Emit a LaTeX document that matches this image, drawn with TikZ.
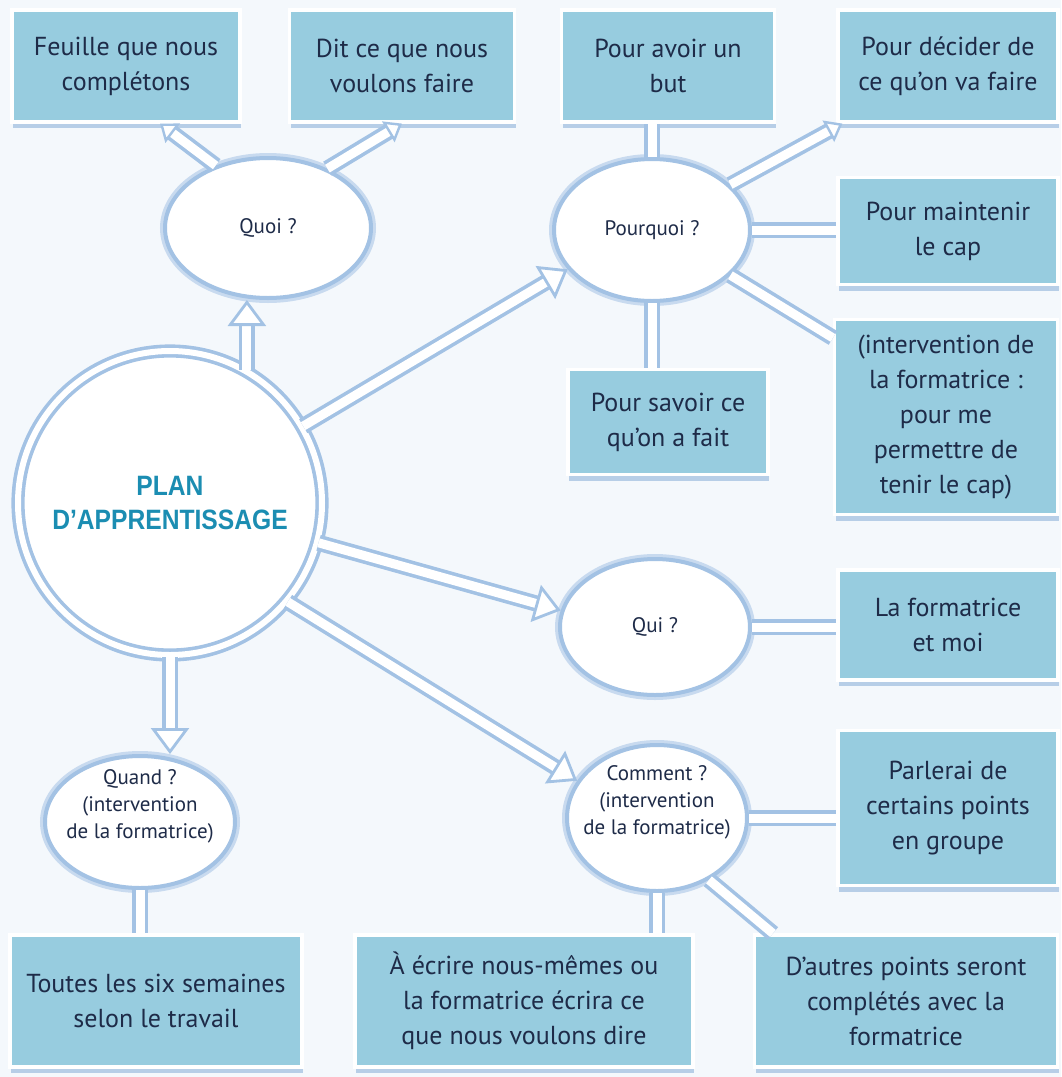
\documentclass[tikz,border=0pt]{standalone}
\usepackage{fontspec}
\setmainfont{PT Sans}
\newfontfamily\titlefont[FakeStretch=0.88]{Liberation Sans}
\usetikzlibrary{arrows.meta,shapes.geometric,shadows}
\definecolor{bgblue}{HTML}{F4F8FC}
\definecolor{boxblue}{HTML}{97CCDF}
\definecolor{inkblue}{HTML}{1E2B48}
\definecolor{titleblue}{HTML}{1B8DB2}
\definecolor{pipeblue}{HTML}{A3C2E4}
\definecolor{shadeblue}{HTML}{8FB3DA}
\tikzset{
  infobox/.style={rectangle, fill=boxblue, draw=white, line width=1.6pt, text=inkblue,
    align=center, font=\fontsize{13}{17.5}\selectfont, inner sep=2pt,
    drop shadow={shadow xshift=0.5pt, shadow yshift=-3pt, fill=shadeblue, opacity=.6}},
  askbubble/.style={ellipse, fill=white, draw=pipeblue, line width=2pt, inner sep=0pt,
    preaction={draw=pipeblue!60, line width=5pt}},
  asktext/.style={text=inkblue, align=center, font=\fontsize{10.5}{13.5}\selectfont},
  pipe/.style={draw=pipeblue, line width=1.8pt, double=white, double distance=4.5pt},
  bigarrow/.style={pipe, -{Triangle[length=13pt, width=19pt, fill=white, line width=1.4pt]}},
  smallarrow/.style={pipe, -{Triangle[length=8pt, width=12pt, fill=white, line width=1.2pt]}},
}
\begin{document}
\begin{tikzpicture}[x=0.5pt, y=-0.5pt]
    \useasboundingbox (0,0) rectangle (1061,1077);
    \fill[bgblue] (0,0) rectangle (1061,1077);

    % centre
    \node[circle, fill=white, minimum size=152pt, draw=pipeblue, line width=1.8pt, double=white, double distance=3pt,
          font=\titlefont\bfseries\fontsize{14}{17}\selectfont, text=titleblue, align=center] (plan) at (170,503) {PLAN\\D’APPRENTISSAGE};

    % questions
    \node[askbubble, minimum width=103pt, minimum height=70pt, label={[asktext]center:Quoi ?}] (quoi) at (268,228) {};
    \node[askbubble, minimum width=98pt, minimum height=71pt, label={[asktext]center:Pourquoi ?}] (pourquoi) at (652,230) {};
    \node[askbubble, minimum width=95pt, minimum height=68pt, label={[asktext]center:Qui ?}] (qui) at (655,627) {};
    \node[askbubble, minimum width=90pt, minimum height=73pt,
          label={[asktext, yshift=8pt]center:Comment ?\\(intervention\\de la formatrice)}] (comment) at (657,818) {};
    \node[askbubble, minimum width=95pt, minimum height=66pt,
          label={[asktext, yshift=8pt]center:Quand ?\\(intervention\\de la formatrice)}] (quand) at (140,822) {};

    % réponses
    \node[infobox, minimum width=114pt, minimum height=56pt] (feuille) at (126,66) {Feuille que nous\\complétons};
    \node[infobox, minimum width=112.5pt, minimum height=56pt] (dit) at (402,66) {Dit ce que nous\\voulons faire};
    \node[infobox, minimum width=106.5pt, minimum height=56pt] (but) at (668,66) {Pour avoir un\\but};
    \node[infobox, minimum width=110pt, minimum height=56pt] (decider) at (948,66) {Pour décider de\\ce qu’on va faire};
    \node[infobox, minimum width=110pt, minimum height=53.5pt] (maintenir) at (948,231) {Pour maintenir\\le cap};
    \node[infobox, minimum width=111.5pt, minimum height=97.5pt] (tenir) at (946,417) {(intervention de\\la formatrice :\\pour me\\permettre de\\tenir le cap)};
    \node[infobox, minimum width=100pt, minimum height=52.5pt] (savoir) at (668,422) {Pour savoir ce\\qu’on a fait};
    \node[infobox, minimum width=110pt, minimum height=55pt] (moi) at (948,625) {La formatrice\\et moi};
    \node[infobox, minimum width=110pt, minimum height=77.5pt] (groupe) at (948,808) {Parlerai de\\certains points\\en groupe};
    \node[infobox, minimum width=146pt, minimum height=66pt] (semaines) at (156,1001) {Toutes les six semaines\\selon le travail};
    \node[infobox, minimum width=169pt, minimum height=66pt] (ecrire) at (524,1001) {À écrire nous-mêmes ou\\la formatrice écrira ce\\que nous voulons dire};
    \node[infobox, minimum width=151.5pt, minimum height=66pt] (autres) at (906,1001) {D’autres points seront\\complétés avec la\\formatrice};

    % flèches du plan
    \draw[bigarrow] (plan.60) -- (plan.60 |- quoi.south);
    \draw[bigarrow] (plan.30) -- (pourquoi.205);
    \draw[bigarrow] (plan.-15) -- (qui.170);
    \draw[bigarrow] (plan.-40) -- (comment.155);
    \draw[bigarrow] (plan.south) -- (plan.south |- quand.north);

    % liaisons
    \draw[smallarrow] (quoi.130) -- ([xshift=17pt]feuille.south);
    \draw[smallarrow] (quoi.45) -- (dit.south);
    \draw[pipe] (pourquoi.north) -- (pourquoi.north |- but.south);
    \draw[smallarrow] (pourquoi.30) -- ([xshift=3pt]decider.south west);
    \draw[pipe] (pourquoi.east) -- (pourquoi.east -| maintenir.west);
    \draw[pipe] (pourquoi.-30) -- ([yshift=-10pt]tenir.north west);
    \draw[pipe] (pourquoi.south) -- (pourquoi.south |- savoir.north);
    \draw[pipe] (qui.east) -- (qui.east -| moi.west);
    \draw[pipe] (comment.east) -- (comment.east -| groupe.west);
    \draw[pipe] (comment.south) -- (comment.south |- ecrire.north);
    \draw[pipe] (comment.-50) -- ([xshift=10pt]autres.north west);
    \draw[pipe] (quand.south) -- (quand.south |- semaines.north);
\end{tikzpicture}
\end{document}
